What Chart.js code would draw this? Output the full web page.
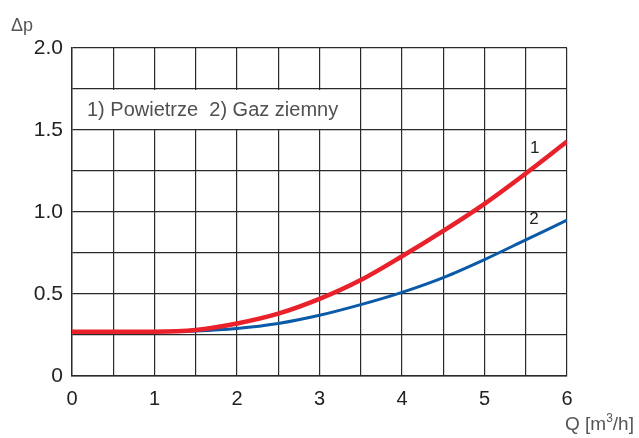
<!DOCTYPE html>
<html>
<head>
<meta charset="utf-8">
<script src="https://cdn.jsdelivr.net/npm/chart.js@4"></script>
<style>
  html, body { margin: 0; padding: 0; background: #fff; }
  #wrap { width: 639px; height: 438px; position: relative; }
</style>
</head>
<body>
<div id="wrap"><canvas id="myChart"></canvas></div>
<script>
// data
var flowQ = [0, 0.5, 1, 1.5, 2, 2.5, 3, 3.5, 4, 4.5, 5, 5.5, 6];
var airDp = [0.27, 0.27, 0.27, 0.28, 0.32, 0.38, 0.47, 0.585, 0.73, 0.885, 1.05, 1.235, 1.43];
var gasDp = [0.27, 0.27, 0.27, 0.275, 0.29, 0.32, 0.37, 0.435, 0.51, 0.60, 0.71, 0.83, 0.95];
var xTickLabels = ['0', '1', '2', '3', '4', '5', '6'];
var yTickLabels = ['0', '0.5', '1.0', '1.5', '2.0'];
var legendText = '1) Powietrze  2) Gaz ziemny';

function toPoints(xs, ys) {
    return xs.map(function (x, i) { return { x: x, y: ys[i] }; });
}

var gridColor = '#2a2a2a';
var fontFam = '"Liberation Sans", Arial, sans-serif';

// extra texts + white legend box
var extras = {
    id: 'extras',
    beforeDatasetsDraw: function (chart) {
        var ctx = chart.ctx, sx = chart.scales.x, sy = chart.scales.y;
        var l = sx.getPixelForValue(0), r = sx.getPixelForValue(3.5);
        var t = sy.getPixelForValue(1.75), b = sy.getPixelForValue(1.5);
        ctx.save();
        ctx.fillStyle = '#fff';
        ctx.fillRect(l + 1, t + 1, r - l - 2, b - t - 2);
        ctx.fillStyle = '#505050';
        ctx.font = '20px ' + fontFam;
        ctx.textBaseline = 'middle';
        ctx.fillText(legendText, l + 15, (t + b) / 2 + 1);
        ctx.restore();
    },
    afterDraw: function (chart) {
        var ctx = chart.ctx, sx = chart.scales.x, sy = chart.scales.y;
        ctx.save();
        ctx.fillStyle = '#555';
        ctx.textBaseline = 'middle';
        ctx.font = '18px ' + fontFam;
        ctx.fillText('\u0394p', 11, 26);
        // axis title Q [m3/h]
        var x0 = 565, yb = 425;
        ctx.font = '19px ' + fontFam;
        ctx.fillText('Q [m', x0, yb);
        var w = ctx.measureText('Q [m').width;
        ctx.font = '12px ' + fontFam;
        ctx.fillText('3', x0 + w, yb - 6);
        var w2 = ctx.measureText('3').width;
        ctx.font = '19px ' + fontFam;
        ctx.fillText('/h]', x0 + w + w2, yb);
        // curve numbers
        ctx.fillStyle = '#222';
        ctx.font = '17px ' + fontFam;
        ctx.textAlign = 'center';
        ctx.fillText('1', sx.getPixelForValue(5.61), sy.getPixelForValue(1.39));
        ctx.fillText('2', sx.getPixelForValue(5.6), sy.getPixelForValue(0.955));
        ctx.restore();
    }
};

var chartBlock = document.getElementById('myChart');
var myChart = new Chart(chartBlock, {
    type: 'line',
    data: {
        datasets: [
            {
                label: '1',
                data: toPoints(flowQ, airDp),
                borderColor: '#e8212b',
                borderWidth: 4.5,
                pointRadius: 0,
                cubicInterpolationMode: 'monotone',
                fill: false
            },
            {
                label: '2',
                data: toPoints(flowQ, gasDp),
                borderColor: '#0a5aa8',
                borderWidth: 3,
                pointRadius: 0,
                cubicInterpolationMode: 'monotone',
                fill: false
            }
        ]
    },
    options: {
        responsive: true,
        maintainAspectRatio: false,
        animation: false,
        layout: { padding: { top: 48, right: 72, left: 0, bottom: 0 } },
        plugins: {
            legend: { display: false },
            tooltip: { enabled: false }
        },
        scales: {
            x: {
                type: 'linear',
                min: 0,
                max: 6,
                afterFit: function (s) { s.height = 62; },
                ticks: {
                    stepSize: 0.5,
                    autoSkip: false,
                    maxRotation: 0,
                    padding: 11,
                    color: '#222',
                    font: { size: 20, family: fontFam },
                    callback: function (v) {
                        return Number.isInteger(v) ? xTickLabels[v] : '';
                    }
                },
                grid: { color: gridColor, lineWidth: 1.2, drawTicks: false },
                border: { color: gridColor, width: 1.4 }
            },
            y: {
                min: 0,
                max: 2,
                afterFit: function (s) { s.width = 72; },
                ticks: {
                    stepSize: 0.25,
                    autoSkip: false,
                    padding: 9,
                    color: '#222',
                    font: { size: 21, family: fontFam },
                    callback: function (v) {
                        var k = Math.round(v / 0.5);
                        return Math.abs(v - k * 0.5) < 1e-6 ? yTickLabels[k] : '';
                    }
                },
                grid: { color: gridColor, lineWidth: 1.2, drawTicks: false },
                border: { color: gridColor, width: 1.4 }
            }
        }
    },
    plugins: [extras]
});
</script>
</body>
</html>
